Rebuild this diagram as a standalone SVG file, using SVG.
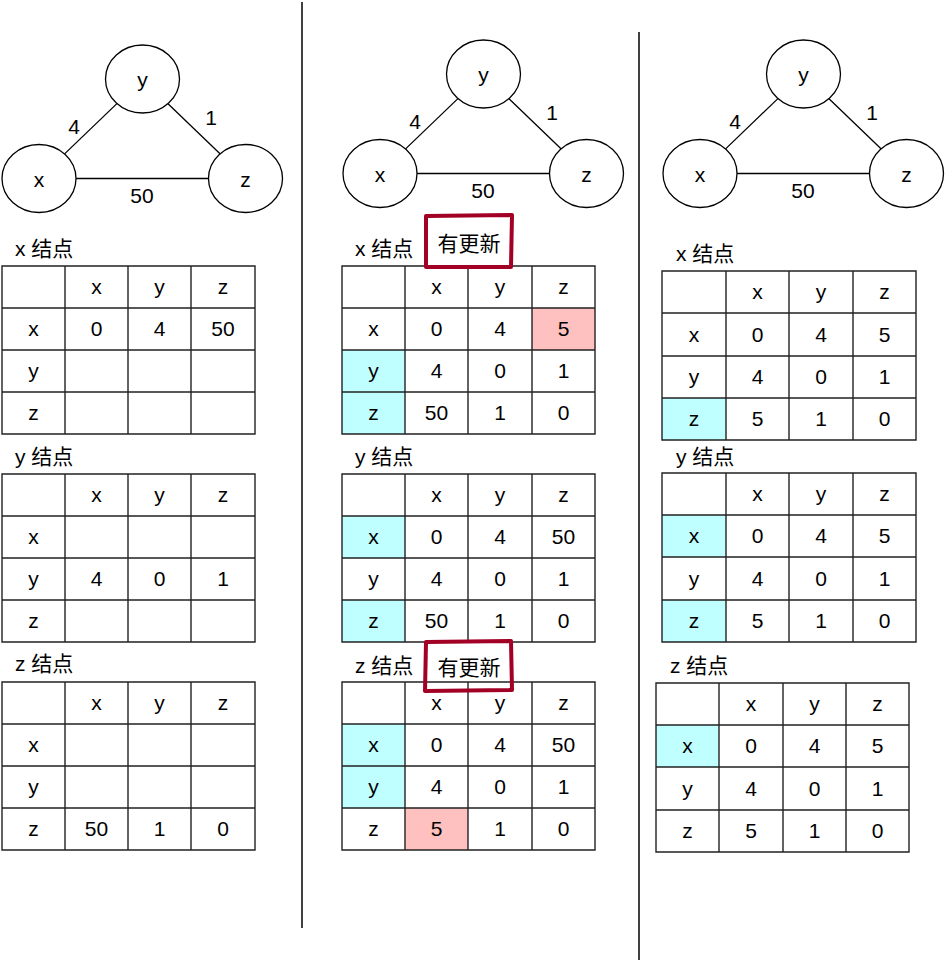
<svg xmlns="http://www.w3.org/2000/svg" width="945" height="962" viewBox="0 0 945 962">
<style>
.bg{fill:#ffffff}
.node{fill:#ffffff;stroke:#000000;stroke-width:1.3}
.edge{stroke:#000000;stroke-width:1.3;fill:none}
.sep{stroke:#000000;stroke-width:1.5}
.grid{fill:none;stroke:#222222;stroke-width:1.4}
.pink{fill:#FFC0C0}
.cyan{fill:#C0FFFF}
.hl{fill:none;stroke:#A20025;stroke-width:4;stroke-linecap:round}
.t{font-family:"Liberation Sans","Noto Sans CJK SC",sans-serif;font-size:21px;fill:#000000;text-anchor:middle}
.lb{font-family:"Liberation Sans","Noto Sans CJK SC",sans-serif;font-size:21px;fill:#000000}
</style>
<rect class="bg" x="0" y="0" width="945" height="962"/>
<g id="separators">
<line class="sep" x1="302" y1="2" x2="302" y2="928"/>
<line class="sep" x1="639" y1="32" x2="639" y2="960"/>
</g>

<!-- Graphs -->
<g id="graph-left">
<g id="connectors-left">
<line class="edge" x1="64.6" y1="153.9" x2="116.9" y2="103.6"/>
<line class="edge" x1="168" y1="103.7" x2="220" y2="153.8"/>
<line class="edge" x1="76" y1="178.5" x2="208.5" y2="178.5"/>
<text class="t" x="74" y="134">4</text>
<text class="t" x="211" y="125">1</text>
<text class="t" x="142" y="203">50</text>
</g>
<g id="left-node-y"><ellipse class="node" cx="142.5" cy="79" rx="37" ry="34"/><text class="t" x="142.5" y="87">y</text></g>
<g id="left-node-x"><ellipse class="node" cx="39" cy="178.5" rx="37" ry="34"/><text class="t" x="39" y="187">x</text></g>
<g id="left-node-z"><ellipse class="node" cx="245.5" cy="178.5" rx="37" ry="34"/><text class="t" x="245.5" y="187">z</text></g>
</g>

<g id="graph-middle" transform="translate(341,-5)">
<g id="connectors-middle">
<line class="edge" x1="64.6" y1="153.9" x2="116.9" y2="103.6"/>
<line class="edge" x1="168" y1="103.7" x2="220" y2="153.8"/>
<line class="edge" x1="76" y1="178.5" x2="208.5" y2="178.5"/>
<text class="t" x="74" y="134">4</text>
<text class="t" x="211" y="125">1</text>
<text class="t" x="142" y="203">50</text>
</g>
<g id="mid-node-y"><ellipse class="node" cx="142.5" cy="79" rx="37" ry="34"/><text class="t" x="142.5" y="87">y</text></g>
<g id="mid-node-x"><ellipse class="node" cx="39" cy="178.5" rx="37" ry="34"/><text class="t" x="39" y="187">x</text></g>
<g id="mid-node-z"><ellipse class="node" cx="245.5" cy="178.5" rx="37" ry="34"/><text class="t" x="245.5" y="187">z</text></g>
</g>

<g id="graph-right" transform="translate(661,-5)">
<g id="connectors-right">
<line class="edge" x1="64.6" y1="153.9" x2="116.9" y2="103.6"/>
<line class="edge" x1="168" y1="103.7" x2="220" y2="153.8"/>
<line class="edge" x1="76" y1="178.5" x2="208.5" y2="178.5"/>
<text class="t" x="74" y="134">4</text>
<text class="t" x="211" y="125">1</text>
<text class="t" x="142" y="203">50</text>
</g>
<g id="right-node-y"><ellipse class="node" cx="142.5" cy="79" rx="37" ry="34"/><text class="t" x="142.5" y="87">y</text></g>
<g id="right-node-x"><ellipse class="node" cx="39" cy="178.5" rx="37" ry="34"/><text class="t" x="39" y="187">x</text></g>
<g id="right-node-z"><ellipse class="node" cx="245.5" cy="178.5" rx="37" ry="34"/><text class="t" x="245.5" y="187">z</text></g>
</g>

<!-- LEFT column tables -->
<g id="left-x-table">
<text class="lb" x="15" y="256">x 结点</text>
<path class="grid" d="M2 266H255V434H2Z M2 308H255 M2 350H255 M2 392H255 M65 266V434 M128 266V434 M191 266V434"/>
<text class="t" x="96.5" y="294">x</text><text class="t" x="159.5" y="294">y</text><text class="t" x="223" y="294">z</text>
<text class="t" x="33.5" y="336">x</text><text class="t" x="96.5" y="336">0</text><text class="t" x="159.5" y="336">4</text><text class="t" x="223" y="336">50</text>
<text class="t" x="33.5" y="378">y</text>
<text class="t" x="33.5" y="420">z</text>
</g>
<g id="left-y-table">
<text class="lb" x="15" y="464">y 结点</text>
<path class="grid" d="M2 474H255V642H2Z M2 516H255 M2 558H255 M2 600H255 M65 474V642 M128 474V642 M191 474V642"/>
<text class="t" x="96.5" y="502">x</text><text class="t" x="159.5" y="502">y</text><text class="t" x="223" y="502">z</text>
<text class="t" x="33.5" y="544">x</text>
<text class="t" x="33.5" y="586">y</text><text class="t" x="96.5" y="586">4</text><text class="t" x="159.5" y="586">0</text><text class="t" x="223" y="586">1</text>
<text class="t" x="33.5" y="628">z</text>
</g>
<g id="left-z-table">
<text class="lb" x="15" y="671">z 结点</text>
<path class="grid" d="M2 682H255V850H2Z M2 724H255 M2 766H255 M2 808H255 M65 682V850 M128 682V850 M191 682V850"/>
<text class="t" x="96.5" y="710">x</text><text class="t" x="159.5" y="710">y</text><text class="t" x="223" y="710">z</text>
<text class="t" x="33.5" y="752">x</text>
<text class="t" x="33.5" y="794">y</text>
<text class="t" x="33.5" y="836">z</text><text class="t" x="96.5" y="836">50</text><text class="t" x="159.5" y="836">1</text><text class="t" x="223" y="836">0</text>
</g>

<!-- MIDDLE column tables -->
<g id="mid-x-table">
<text class="lb" x="355" y="256">x 结点</text>
<rect class="pink" x="532" y="308" width="63" height="42"/>
<rect class="cyan" x="342" y="350" width="63" height="84"/>
<path class="grid" d="M342 266H595V434H342Z M342 308H595 M342 350H595 M342 392H595 M405 266V434 M468 266V434 M532 266V434"/>
<text class="t" x="436.5" y="294">x</text><text class="t" x="500" y="294">y</text><text class="t" x="563.5" y="294">z</text>
<text class="t" x="373.5" y="336">x</text><text class="t" x="436.5" y="336">0</text><text class="t" x="500" y="336">4</text><text class="t" x="563.5" y="336">5</text>
<text class="t" x="373.5" y="378">y</text><text class="t" x="436.5" y="378">4</text><text class="t" x="500" y="378">0</text><text class="t" x="563.5" y="378">1</text>
<text class="t" x="373.5" y="420">z</text><text class="t" x="436.5" y="420">50</text><text class="t" x="500" y="420">1</text><text class="t" x="563.5" y="420">0</text>
</g>
<g id="mid-x-update">
<path class="hl" d="M426 216L512 215 M512 215L511 267 M511 267L426 267 M426 267L426 216"/>
<text class="t" x="469" y="251">有更新</text>
</g>
<g id="mid-y-table">
<text class="lb" x="355" y="464">y 结点</text>
<rect class="cyan" x="342" y="516" width="63" height="42"/>
<rect class="cyan" x="342" y="600" width="63" height="42"/>
<path class="grid" d="M342 474H595V642H342Z M342 516H595 M342 558H595 M342 600H595 M405 474V642 M468 474V642 M532 474V642"/>
<text class="t" x="436.5" y="502">x</text><text class="t" x="500" y="502">y</text><text class="t" x="563.5" y="502">z</text>
<text class="t" x="373.5" y="544">x</text><text class="t" x="436.5" y="544">0</text><text class="t" x="500" y="544">4</text><text class="t" x="563.5" y="544">50</text>
<text class="t" x="373.5" y="586">y</text><text class="t" x="436.5" y="586">4</text><text class="t" x="500" y="586">0</text><text class="t" x="563.5" y="586">1</text>
<text class="t" x="373.5" y="628">z</text><text class="t" x="436.5" y="628">50</text><text class="t" x="500" y="628">1</text><text class="t" x="563.5" y="628">0</text>
</g>
<g id="mid-z-table">
<text class="lb" x="355" y="673">z 结点</text>
<rect class="cyan" x="342" y="724" width="63" height="84"/>
<rect class="pink" x="405" y="808" width="63" height="42"/>
<path class="grid" d="M342 682H595V850H342Z M342 724H595 M342 766H595 M342 808H595 M405 682V850 M468 682V850 M532 682V850"/>
<text class="t" x="436.5" y="710">x</text><text class="t" x="500" y="710">y</text><text class="t" x="563.5" y="710">z</text>
<text class="t" x="373.5" y="752">x</text><text class="t" x="436.5" y="752">0</text><text class="t" x="500" y="752">4</text><text class="t" x="563.5" y="752">50</text>
<text class="t" x="373.5" y="794">y</text><text class="t" x="436.5" y="794">4</text><text class="t" x="500" y="794">0</text><text class="t" x="563.5" y="794">1</text>
<text class="t" x="373.5" y="836">z</text><text class="t" x="436.5" y="836">5</text><text class="t" x="500" y="836">1</text><text class="t" x="563.5" y="836">0</text>
</g>
<g id="mid-z-update">
<path class="hl" d="M426 642L511 641 M511 641L512 690 M512 690L425 691 M425 691L426 642"/>
<text class="t" x="469" y="675">有更新</text>
</g>

<!-- RIGHT column tables -->
<g id="right-x-table">
<text class="lb" x="676" y="261">x 结点</text>
<rect class="cyan" x="662" y="398" width="64" height="42"/>
<path class="grid" d="M662 271H916V440H662Z M662 313H916 M662 356H916 M662 398H916 M726 271V440 M789 271V440 M853 271V440"/>
<text class="t" x="757.5" y="299">x</text><text class="t" x="821" y="299">y</text><text class="t" x="884.5" y="299">z</text>
<text class="t" x="694" y="341.5">x</text><text class="t" x="757.5" y="341.5">0</text><text class="t" x="821" y="341.5">4</text><text class="t" x="884.5" y="341.5">5</text>
<text class="t" x="694" y="384">y</text><text class="t" x="757.5" y="384">4</text><text class="t" x="821" y="384">0</text><text class="t" x="884.5" y="384">1</text>
<text class="t" x="694" y="426">z</text><text class="t" x="757.5" y="426">5</text><text class="t" x="821" y="426">1</text><text class="t" x="884.5" y="426">0</text>
</g>
<g id="right-y-table">
<text class="lb" x="676" y="464">y 结点</text>
<rect class="cyan" x="662" y="515" width="64" height="42"/>
<rect class="cyan" x="662" y="600" width="64" height="42"/>
<path class="grid" d="M662 473H916V642H662Z M662 515H916 M662 557H916 M662 600H916 M726 473V642 M789 473V642 M853 473V642"/>
<text class="t" x="757.5" y="501">x</text><text class="t" x="821" y="501">y</text><text class="t" x="884.5" y="501">z</text>
<text class="t" x="694" y="543">x</text><text class="t" x="757.5" y="543">0</text><text class="t" x="821" y="543">4</text><text class="t" x="884.5" y="543">5</text>
<text class="t" x="694" y="585.5">y</text><text class="t" x="757.5" y="585.5">4</text><text class="t" x="821" y="585.5">0</text><text class="t" x="884.5" y="585.5">1</text>
<text class="t" x="694" y="628">z</text><text class="t" x="757.5" y="628">5</text><text class="t" x="821" y="628">1</text><text class="t" x="884.5" y="628">0</text>
</g>
<g id="right-z-table">
<text class="lb" x="670" y="673">z 结点</text>
<rect class="cyan" x="656" y="725" width="63" height="42"/>
<path class="grid" d="M656 683H909V852H656Z M656 725H909 M656 767H909 M656 810H909 M719 683V852 M783 683V852 M846 683V852"/>
<text class="t" x="751" y="711">x</text><text class="t" x="814.5" y="711">y</text><text class="t" x="877.5" y="711">z</text>
<text class="t" x="687.5" y="753">x</text><text class="t" x="751" y="753">0</text><text class="t" x="814.5" y="753">4</text><text class="t" x="877.5" y="753">5</text>
<text class="t" x="687.5" y="795.5">y</text><text class="t" x="751" y="795.5">4</text><text class="t" x="814.5" y="795.5">0</text><text class="t" x="877.5" y="795.5">1</text>
<text class="t" x="687.5" y="838">z</text><text class="t" x="751" y="838">5</text><text class="t" x="814.5" y="838">1</text><text class="t" x="877.5" y="838">0</text>
</g>
</svg>
